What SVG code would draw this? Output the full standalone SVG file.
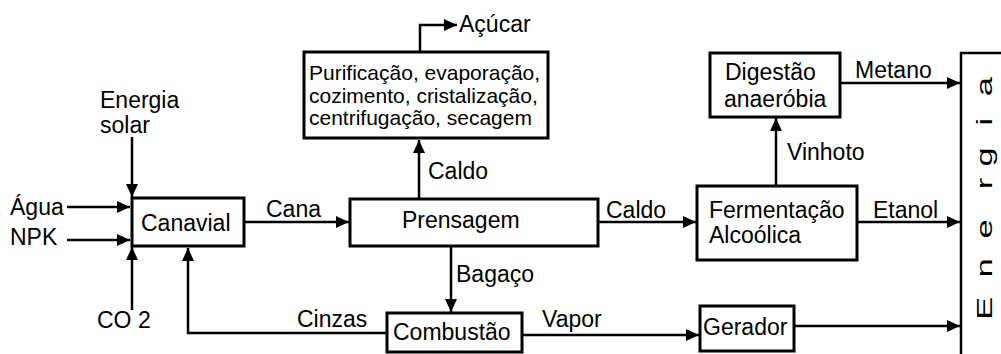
<svg xmlns="http://www.w3.org/2000/svg" width="1001" height="354" viewBox="0 0 1001 354">
<style>
text{font-family:"Liberation Sans",Arial,sans-serif;font-size:23px;fill:#000}
.box{fill:#fff;stroke:#000;stroke-width:3}
.ln{fill:none;stroke:#000;stroke-width:2.5}
.small{font-size:21px}
</style>
<defs>
<marker id="ah" markerUnits="userSpaceOnUse" markerWidth="14" markerHeight="12" refX="13" refY="6" orient="auto">
<path d="M0,0 L13,6 L0,12 Z" fill="#000"/>
</marker>
</defs>
<g id="connectors">
<path class="ln" d="M132,137 V197" marker-end="url(#ah)"/>
<path class="ln" d="M67,207 H130" marker-end="url(#ah)"/>
<path class="ln" d="M67,240 H130" marker-end="url(#ah)"/>
<path class="ln" d="M132,310 V247" marker-end="url(#ah)"/>
<path class="ln" d="M387,333 H188 V248" marker-end="url(#ah)"/>
<path class="ln" d="M244,222 H349" marker-end="url(#ah)"/>
<path class="ln" d="M419,199 V140" marker-end="url(#ah)"/>
<path class="ln" d="M420,52 V25 H457" marker-end="url(#ah)"/>
<path class="ln" d="M598,222 H696" marker-end="url(#ah)"/>
<path class="ln" d="M451,246 V312" marker-end="url(#ah)"/>
<path class="ln" d="M522,335 H699" marker-end="url(#ah)"/>
<path class="ln" d="M793,326 H960" marker-end="url(#ah)"/>
<path class="ln" d="M857,222 H960" marker-end="url(#ah)"/>
<path class="ln" d="M776,186 V118" marker-end="url(#ah)"/>
<path class="ln" d="M840,83 H960" marker-end="url(#ah)"/>
</g>
<g id="labels">
<text x="100" y="108">Energia</text>
<text x="100" y="133">solar</text>
<text x="10" y="215">Água</text>
<text x="10" y="245">NPK</text>
<text x="97" y="328">CO 2</text>
<text x="266" y="217">Cana</text>
<text x="297" y="327">Cinzas</text>
<text x="428" y="179">Caldo</text>
<text x="459" y="32">Açúcar</text>
<text x="606" y="218">Caldo</text>
<text x="456" y="282">Bagaço</text>
<text x="542" y="327">Vapor</text>
<text x="873" y="218">Etanol</text>
<text x="787" y="160">Vinhoto</text>
<text x="855" y="78">Metano</text>
</g>
<g id="canavial">
<rect class="box" x="132" y="198" width="112" height="48"/>
<text x="141" y="231">Canavial</text>
</g>
<g id="prensagem">
<rect class="box" x="350" y="199" width="248" height="47"/>
<text x="402" y="228">Prensagem</text>
</g>
<g id="purificacao">
<rect class="box" x="304" y="52" width="244" height="86"/>
<text class="small" x="309" y="80">Purificação, evaporação,</text>
<text class="small" x="309" y="103">cozimento, cristalização,</text>
<text class="small" x="309" y="125">centrifugação, secagem</text>
</g>
<g id="combustao">
<rect class="box" x="387" y="313" width="135" height="39"/>
<text x="393" y="340">Combustão</text>
</g>
<g id="fermentacao">
<rect class="box" x="697" y="186" width="160" height="74"/>
<text x="709" y="218">Fermentação</text>
<text x="709" y="243">Alcoólica</text>
</g>
<g id="digestao">
<rect class="box" x="710" y="53" width="130" height="64"/>
<text x="725" y="80">Digestão</text>
<text x="724" y="107">anaeróbia</text>
</g>
<g id="gerador">
<rect class="box" x="700" y="306" width="94" height="45"/>
<text x="703" y="335">Gerador</text>
</g>
<g id="energia">
<path d="M1003,53 H961 V356" fill="none" stroke="#000" stroke-width="2.5"/>
<text transform="translate(992,317) rotate(-90) scale(1.5,1)" x="-1.9 26.4 52.4 85.1 100.4 127.7 147.2" y="0">Energia</text>
</g>
</svg>
